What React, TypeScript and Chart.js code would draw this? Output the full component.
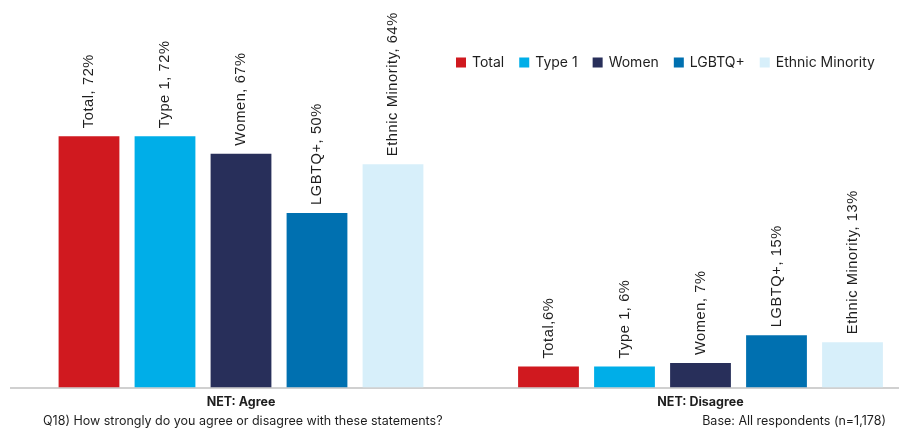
import React, { useEffect, useRef } from "react";
import { Chart, registerables } from "chart.js";

Chart.register(...registerables);

// Survey categories and respondent groups
const categories = ["NET: Agree", "NET: Disagree"];
const seriesNames = ["Total", "Type 1", "Women", "LGBTQ+", "Ethnic Minority"];

// Percentages per group, in category order
const totalValues = [72, 6];
const type1Values = [72, 6];
const womenValues = [67, 7];
const lgbtqValues = [50, 15];
const ethnicValues = [64, 13];

// Separator between name and value in each bar label
const totalSeparators = [", ", ","];
const defaultSeparators = [", ", ", "];

const seriesColors = ["#d0191f", "#00aee8", "#282f5a", "#0070b0", "#d7effa"];

const questionNote = "Q18) How strongly do you agree or disagree with these statements?";
const baseNote = "Base: All respondents (n=1,178)";

const TEXT_COLOR = "#1e1e1e";
const UI_FONT = "Inter, Roboto, sans-serif";

const barLabelPlugin = {
  id: "barLabels",
  afterDatasetsDraw(chart: any) {
    const ctx = chart.ctx;
    ctx.save();
    ctx.fillStyle = TEXT_COLOR;
    ctx.font = "14.6px 'Liberation Sans', Arial, sans-serif";
    (ctx as any).letterSpacing = "0.6px";
    ctx.textAlign = "left";
    ctx.textBaseline = "middle";
    chart.data.datasets.forEach((ds: any, di: number) => {
      const meta = chart.getDatasetMeta(di);
      meta.data.forEach((bar: any, i: number) => {
        const seps = ds.separators as string[];
        const text = `${ds.label}${seps[i]}${ds.data[i]}%`;
        ctx.save();
        ctx.translate(bar.x, bar.y - 8);
        ctx.rotate(-Math.PI / 2);
        ctx.fillText(text, 0, 0);
        ctx.restore();
      });
    });
    ctx.restore();
  },
};

const legendPlugin = {
  id: "customLegend",
  afterDraw(chart: any) {
    const ctx = chart.ctx;
    ctx.save();
    ctx.font = `14px ${UI_FONT}`;
    ctx.textBaseline = "middle";
    ctx.textAlign = "left";
    let x = 456;
    const cy = 62.5;
    chart.data.datasets.forEach((ds: any) => {
      ctx.fillStyle = ds.backgroundColor;
      ctx.fillRect(x, cy - 5, 10, 10);
      x += 16;
      ctx.fillStyle = TEXT_COLOR;
      ctx.fillText(ds.label, x, cy);
      x += ctx.measureText(ds.label).width + 15;
    });
    ctx.restore();
  },
};

const footnotePlugin = {
  id: "footnotes",
  afterDraw(chart: any) {
    const ctx = chart.ctx;
    ctx.save();
    ctx.font = `12.5px ${UI_FONT}`;
    ctx.fillStyle = TEXT_COLOR;
    ctx.textBaseline = "middle";
    ctx.textAlign = "left";
    ctx.fillText(questionNote, 43, 421.5);
    ctx.textAlign = "right";
    ctx.fillText(baseNote, 886, 421.5);
    ctx.restore();
  },
};

export default function App() {
  const canvasRef = useRef<HTMLCanvasElement | null>(null);

  useEffect(() => {
    if (!canvasRef.current) return;
    const valueSets = [totalValues, type1Values, womenValues, lgbtqValues, ethnicValues];
    const chart = new Chart(canvasRef.current, {
      type: "bar",
      data: {
        labels: categories,
        datasets: seriesNames.map((name, i) => ({
          label: name,
          data: valueSets[i],
          backgroundColor: seriesColors[i],
          separators: i === 0 ? totalSeparators : defaultSeparators,
          categoryPercentage: 0.827,
          barPercentage: 0.8,
        })) as any,
      },
      options: {
        responsive: false,
        animation: false,
        devicePixelRatio: 1,
        layout: { padding: { left: 11.25, right: 4.75, top: 38.5, bottom: 12.5 } },
        plugins: {
          legend: { display: false },
          tooltip: { enabled: false },
        },
        scales: {
          x: {
            grid: { display: false, drawTicks: false },
            border: { display: true, color: "#d0d0d0", width: 2 },
            ticks: {
              color: TEXT_COLOR,
              padding: 7,
              font: { family: UI_FONT, size: 12.5, weight: "bold" },
            },
          },
          y: {
            display: false,
            min: 0,
            max: 100,
          },
        },
      },
      plugins: [barLabelPlugin, legendPlugin, footnotePlugin],
    });
    return () => chart.destroy();
  }, []);

  return (
    <div
      style={{
        position: "fixed",
        left: 0,
        top: 0,
        width: 899,
        height: 429,
        overflow: "hidden",
        background: "#ffffff",
      }}
    >
      <canvas ref={canvasRef} width={935} height={429} style={{ display: "block" }} />
    </div>
  );
}
